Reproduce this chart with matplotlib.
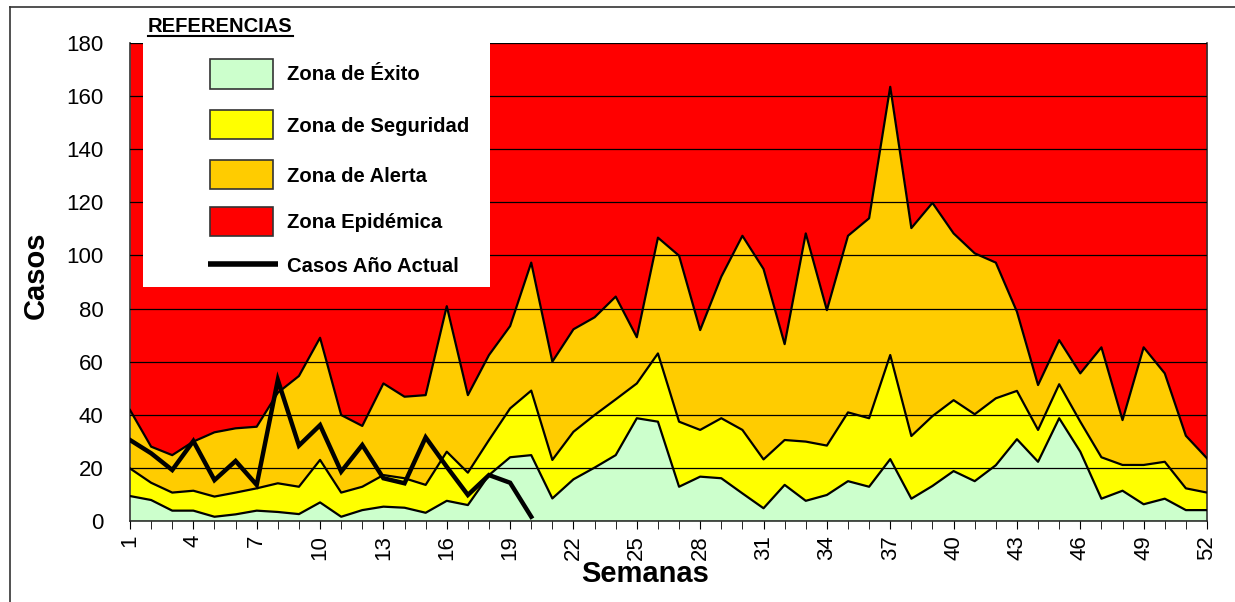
import numpy as np
import matplotlib
matplotlib.use("Agg")
import matplotlib.pyplot as plt
from matplotlib.patches import Rectangle
from matplotlib.lines import Line2D

plt.rcParams['font.family'] = ['Liberation Sans', 'DejaVu Sans']

semanas = np.arange(1, 53)

# upper limit of each zone (cases per week)
limite_exito = [9.4, 7.9, 3.9, 3.9, 1.6, 2.5, 3.9, 3.4, 2.6, 7.0,
                1.6, 4.1, 5.4, 5.0, 3.1, 7.6, 6.0, 17.3, 24.0, 24.8,
                8.5, 15.7, 20.1, 24.8, 38.7, 37.4, 12.9, 16.7, 16.1, 10.4,
                4.8, 13.6, 7.6, 9.8, 15.0, 12.9, 23.3, 8.4, 13.2, 18.8,
                15.0, 21.0, 30.8, 22.3, 38.7, 26.1, 8.4, 11.4, 6.3, 8.4, 4.1, 4.1]
limite_seguridad = [19.8, 14.4, 10.7, 11.4, 9.2, 10.7, 12.3, 14.2, 12.9, 23.0,
                    10.7, 12.9, 17.3, 16.1, 13.6, 26.1, 18.2, 30.5, 42.4, 49.1,
                    23.0, 33.6, 39.9, 45.8, 51.8, 63.1, 37.4, 34.3, 38.7, 34.3,
                    23.2, 30.5, 29.9, 28.4, 40.9, 38.7, 62.5, 32.0, 39.5, 45.5,
                    40.2, 46.2, 49.0, 34.3, 51.5, 37.4, 24.0, 21.1, 21.1, 22.3, 12.3, 10.7]
limite_alerta = [41.8, 28.0, 24.8, 29.9, 33.4, 34.9, 35.5, 48.3, 54.6, 69.0,
                 39.9, 35.8, 51.8, 46.8, 47.4, 80.9, 47.4, 62.5, 73.4, 97.3,
                 60.0, 72.2, 76.7, 84.5, 69.2, 106.7, 99.9, 71.9, 92.0, 107.4,
                 94.9, 66.6, 108.3, 79.4, 107.4, 114.0, 163.5, 110.3, 119.8, 108.3,
                 100.8, 97.3, 78.8, 51.2, 68.1, 55.6, 65.4, 38.0, 65.4, 55.6, 32.1, 23.6]
limite_max = 180

semanas_actual = np.arange(1, 21)
casos_actual = [30.5, 25.5, 19.2, 30.1, 15.4, 22.6, 13.6, 53.1, 28.4, 36.1,
                18.6, 28.6, 16.1, 14.2, 31.5, 20.4, 9.8, 17.3, 14.4, 1.6]

c_exito = '#CCFFCC'
c_seg = '#FFFF00'
c_alerta = '#FFCC00'
c_epi = '#FF0000'

W, H = 1235, 602
def fx(px):
    return px / W
def fy(py):
    return 1 - py / H

fig = plt.figure(figsize=(12.35, 6.02), dpi=100)
ax = fig.add_axes([fx(130), fy(521), (1207-130)/W, (521-43)/H])

ax.fill_between(semanas, 0, limite_exito, color=c_exito, zorder=1, lw=0)
ax.fill_between(semanas, limite_exito, limite_seguridad, color=c_seg, zorder=1, lw=0)
ax.fill_between(semanas, limite_seguridad, limite_alerta, color=c_alerta, zorder=1, lw=0)
ax.fill_between(semanas, limite_alerta, limite_max, color=c_epi, zorder=0, lw=0)
for lim in (limite_exito, limite_seguridad, limite_alerta):
    ax.plot(semanas, lim, color='black', lw=1.6, zorder=3)
ax.plot(semanas_actual, casos_actual, color='black', lw=3.2, zorder=4,
        solid_joinstyle='miter')

ax.set_xlim(1, 52)
ax.set_ylim(0, 180)
ax.set_yticks(np.arange(0, 181, 20))
ax.set_xticks(np.arange(1, 53, 3))
ax.set_xticks(semanas, minor=True)
ax.yaxis.grid(True, color='black', lw=0.9)
ax.set_axisbelow(False)
for gl in ax.get_ygridlines():
    gl.set_zorder(0.5)
ax.tick_params(axis='y', length=0, labelsize=16, pad=19)
ax.tick_params(axis='x', which='both', direction='out', length=6, labelsize=16,
               labelrotation=90, pad=4)
for s in ax.spines.values():
    s.set_color('#333333')
    s.set_linewidth(1.2)
ax.spines['top'].set_visible(False)

fig.text(fx(645), fy(574), 'Semanas', fontsize=21, fontweight='bold',
         ha='center', va='center')
fig.text(fx(36), fy(275), 'Casos', fontsize=21, fontweight='bold',
         ha='center', va='center', rotation=90)

# legend box (drawn by hand)
fig.patches.append(Rectangle((fx(143), fy(287)), (490-143)/W, (287-43)/H,
                             transform=fig.transFigure, facecolor='white',
                             edgecolor='none', zorder=5))
zonas = ['Zona de Éxito', 'Zona de Seguridad', 'Zona de Alerta', 'Zona Epidémica']
colores = [c_exito, c_seg, c_alerta, c_epi]
filas = [74, 125, 175, 222]
for lab, col, y in zip(zonas, colores, filas):
    fig.patches.append(Rectangle((fx(210), fy(y + 14.5)), 63/W, 29/H,
                                 transform=fig.transFigure, facecolor=col,
                                 edgecolor='#333333', lw=1.2, zorder=6))
    fig.text(fx(287), fy(y + 1), lab, fontsize=14.6, fontweight='bold',
             va='center', ha='left', zorder=7)
fig.add_artist(Line2D([fx(208), fx(278)], [fy(264), fy(264)], color='black',
                      lw=4, solid_capstyle='butt', transform=fig.transFigure,
                      zorder=7))
fig.text(fx(287), fy(266), 'Casos Año Actual', fontsize=14.6, fontweight='bold',
         va='center', ha='left', zorder=7)

fig.text(fx(148), fy(26), 'REFERENCIAS', fontsize=14.5, fontweight='bold',
         va='center', ha='left')
fig.add_artist(Line2D([fx(148), fx(293)], [fy(36), fy(36)],
                      color='black', lw=1.5, transform=fig.transFigure))

# outer frame
fig.add_artist(Line2D([fx(10), fx(10)], [0, fy(7)], color='#333333',
                      lw=1.2, transform=fig.transFigure))
fig.add_artist(Line2D([fx(10), 1], [fy(7), fy(7)], color='#333333',
                      lw=1.2, transform=fig.transFigure))

fig.savefig('out.png', dpi=100)
